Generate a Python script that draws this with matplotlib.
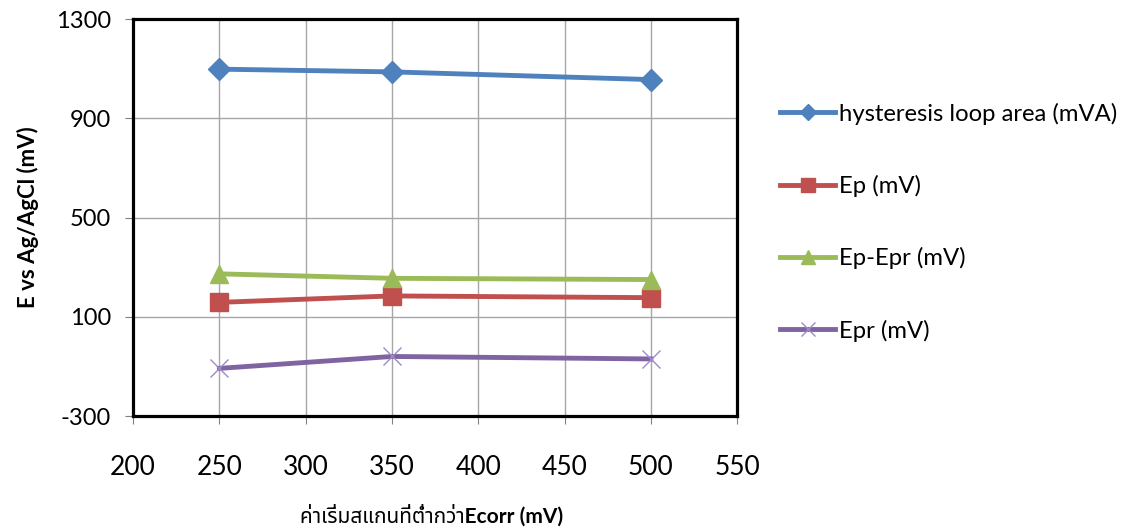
import matplotlib
matplotlib.use('Agg')
import matplotlib.pyplot as plt
from matplotlib import font_manager

# Data
start_potential = [250, 350, 500]
hysteresis_area = [1098, 1087, 1056]
ep = [158, 184, 177]
ep_epr = [273, 255, 250]
epr = [-108, -60, -70]

x_ticks = [200, 250, 300, 350, 400, 450, 500, 550]
y_ticks = [-300, 100, 500, 900, 1300]

# pick a font that can draw Thai, if any
thai_candidates = ['Noto Sans Thai', 'Noto Serif Thai', 'Loma', 'Garuda', 'Norasi',
                   'Tlwg Typo', 'FreeSans', 'Noto Sans Thai Looped']
installed = {f.name for f in font_manager.fontManager.ttflist}
thai_fonts = [f for f in thai_candidates if f in installed]

base_font = 'Lato'
plt.rcParams['font.family'] = [base_font, 'DejaVu Sans']
plt.rcParams['axes.unicode_minus'] = False

fig = plt.figure(figsize=(11.43, 5.29), dpi=100)
ax = fig.add_axes([0.1164, 0.2136, 0.645 - 0.1164, 0.964 - 0.2136])

ax.plot(start_potential, hysteresis_area, color='#4F81BD', lw=3.5, marker='D',
        markersize=11, label='hysteresis loop area (mVA)')
ax.plot(start_potential, ep, color='#C0504D', lw=3.5, marker='s',
        markersize=13, label='Ep (mV)')
ax.plot(start_potential, ep_epr, color='#9BBB59', lw=3.5, marker='^',
        markersize=13, label='Ep-Epr (mV)')
ax.plot(start_potential, epr, color='#8064A2', lw=3.5, marker='x',
        markersize=13, markeredgewidth=1, markeredgecolor='#9D8AC8',
        label='Epr (mV)')

ax.set_xlim(200, 550)
ax.set_ylim(-300, 1300)
ax.set_xticks(x_ticks)
ax.set_yticks(y_ticks)
ax.grid(True, color='#a6a6a6', lw=1)
ax.set_axisbelow(True)
for s in ax.spines.values():
    s.set_linewidth(2.3)
    s.set_color('black')

ax.tick_params(axis='x', labelsize=19, length=6, pad=22, color='#808080')
ax.tick_params(axis='y', labelsize=17, length=6, pad=10, color='#808080')

ax.set_ylabel('E vs Ag/AgCl (mV)', fontsize=16, fontweight='bold', labelpad=12)
xl_family = [base_font] + thai_fonts + ['DejaVu Sans']
fig.text(0.378, 0.026, 'ค่าเริ่มสแกนที่ต่ำกว่าEcorr (mV)', ha='center', va='center',
         fontsize=15, fontweight='bold', family=xl_family)

fig.legend(loc='center left', bbox_to_anchor=(0.664, 0.58), frameon=False,
           fontsize=17.2, labelspacing=2.1, handlelength=2.3, handletextpad=0.15,
           markerscale=0.75)

fig.savefig('out.png', dpi=100)
